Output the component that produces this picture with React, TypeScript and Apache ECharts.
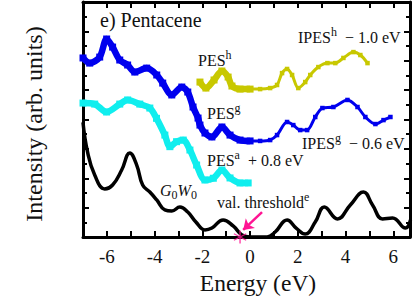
import React, { useEffect, useRef } from 'react';
import * as echarts from 'echarts';

// G0W0 theory (black line)
const gwE = [-7.0, -6.81, -6.51, -6.09, -5.76, -5.38, -5.04, -4.75, -4.50, -4.20, -3.91, -3.57, -3.28, -2.94, -2.61, -2.27, -1.89, -1.60, -1.13, -0.71, -0.34, 0.0, 0.71, 1.05, 1.55, 1.93, 2.31, 2.73, 3.11, 3.66, 4.2, 4.75, 5.13, 5.55, 5.97, 6.51, 6.72];
const gwI = [7.8, 5.79, 4.22, 3.27, 3.54, 4.56, 5.72, 4.90, 3.54, 3.06, 2.52, 1.84, 1.77, 2.04, 1.70, 1.02, 0.48, 0.61, 1.16, 0.75, 0.14, 0.0, 0.0, 0.34, 1.16, 0.61, 0.2, 1.02, 2.04, 1.23, 2.18, 3.06, 2.18, 1.23, 1.29, 0.61, 1.16];

// PES^a + 0.8 eV (cyan)
const pesAE = [-7.0, -6.51, -6.01, -5.46, -5.13, -4.62, -4.20, -3.92, -3.57, -3.36, -3.08, -2.80, -2.52, -2.24, -1.89, -1.54, -1.18, -0.84, -0.42, -0.08];
const pesAI = [9.12, 9.05, 8.51, 9.05, 9.33, 9.05, 8.78, 8.08, 6.94, 6.15, 6.49, 6.60, 5.92, 4.90, 3.88, 4.00, 4.56, 4.02, 3.68, 3.68];

// PES^g (blue, thick)
const pesGE = [-7.0, -6.72, -6.30, -6.01, -5.76, -5.46, -5.13, -4.83, -4.33, -3.91, -3.66, -3.28, -2.86, -2.61, -2.39, -2.18, -2.10, -1.89, -1.60, -1.18, -0.84, -0.42, 0.0];
const pesGI = [12.19, 11.84, 12.25, 13.48, 12.93, 12.05, 11.71, 11.23, 11.5, 11.03, 10.48, 9.67, 10.21, 9.87, 8.85, 8.10, 7.62, 7.08, 6.81, 7.49, 6.94, 6.60, 6.54];

// IPES^g - 0.6 eV (blue, small)
const ipesGE = [0.0, 0.42, 0.84, 1.13, 1.55, 1.81, 2.10, 2.39, 2.73, 3.03, 3.49, 4.08, 4.50, 4.83, 5.25, 5.59, 5.88];
const ipesGI = [6.54, 6.54, 6.60, 6.94, 7.83, 7.62, 7.28, 7.28, 8.17, 8.78, 8.85, 9.33, 8.85, 8.17, 7.69, 7.96, 8.17];

// PES^h (yellow, thick)
const pesHE = [-2.10, -1.85, -1.51, -1.18, -0.92, -0.76, -0.42, 0.0];
const pesHI = [10.55, 10.14, 10.69, 11.30, 10.89, 10.28, 10.07, 10.07];

// IPES^h - 1.0 eV (yellow, small)
const ipesHE = [0.0, 0.42, 0.84, 1.13, 1.34, 1.55, 1.76, 2.02, 2.31, 2.52, 2.86, 3.24, 3.57, 3.91, 4.33, 4.62, 4.92];
const ipesHI = [10.07, 10.07, 10.14, 10.35, 11.16, 11.44, 11.03, 10.14, 10.55, 11.03, 11.57, 11.84, 11.84, 12.19, 12.59, 12.39, 11.84];

// valence threshold marker and arrow
const thresholdPoint = [-0.42, 0];
const arrowFrom = [0.5, 1.7];
const arrowTo = [-0.29, 0.48];

const xMin = -7;
const xMax = 6.7;
const yMin = 0;
const yMax = 16;

const pairs = (xs: number[], ys: number[]) => xs.map((x, i) => [x, ys[i]]);

const SERIF = 'Liberation Serif';
const TXT = '#111';
const BLUE = '#0000ee';
const CYAN = '#10eeee';
const YELLOW = '#c8c800';
const PINK = '#ff1493';

const STAR =
  'path://M-0.6,-6L0.6,-6L0.6,6L-0.6,6Z M4.896,-3.52L5.496,-2.48L-4.896,3.52L-5.496,2.48Z M5.496,2.48L4.896,3.52L-5.496,-2.48L-4.896,-3.52Z';

const fnt = (fs: number, italic = false) => `${italic ? 'italic ' : ''}${fs}px "${SERIF}"`;

const richStyles = (fs: number) => ({
  m: { font: fnt(fs), fontFamily: SERIF, fontSize: fs, lineHeight: 22, fill: TXT },
  s: { font: fnt(Math.round(fs * 0.72)), fontFamily: SERIF, fontSize: Math.round(fs * 0.72), verticalAlign: 'top', fill: TXT },
  b: { font: fnt(Math.round(fs * 0.72)), fontFamily: SERIF, fontSize: Math.round(fs * 0.72), verticalAlign: 'bottom', fill: TXT },
  i: { font: fnt(fs, true), fontFamily: SERIF, fontSize: fs, fontStyle: 'italic', lineHeight: 22, fill: TXT },
});

const label = (x: number, y: number, text: string, fs = 16, extra: any = {}) => {
  const style: any = {
    text,
    font: fnt(fs),
    fontFamily: SERIF,
    fontSize: fs,
    fill: TXT,
    align: extra.align || 'left',
    verticalAlign: 'middle',
  };
  if (text.indexOf('{') >= 0) style.rich = richStyles(fs);
  return { type: 'text', x, y, z: 100, rotation: extra.rotation || 0, style };
};

const axisCommon = {
  axisLine: { show: true, onZero: false, lineStyle: { color: '#000', width: 3 } },
  splitLine: { show: false },
};

export default function App() {
  const ref = useRef<HTMLDivElement>(null);
  useEffect(() => {
    const chart = echarts.init(ref.current!, null, { renderer: 'svg' });
    const fmt = (v: number) => {
      const r = Math.round(v);
      return Math.abs(r - v) < 1e-6 && r % 2 === 0 ? String(r) : '';
    };
    chart.setOption({
      animation: false,
      backgroundColor: '#fff',
      grid: { left: 83, right: 5, top: 2, bottom: 59, containLabel: false },
      xAxis: [
        {
          type: 'value', min: xMin, max: xMax, interval: 1, position: 'bottom',
          ...axisCommon,
          axisTick: { show: true, inside: true, length: 6, lineStyle: { color: '#000', width: 2 } },
          axisLabel: { show: true, formatter: fmt, fontFamily: SERIF, fontSize: 19, color: TXT, margin: 10 },
        },
        {
          type: 'value', min: xMin, max: xMax, interval: 1, position: 'top',
          ...axisCommon,
          axisTick: { show: true, inside: true, length: 6, lineStyle: { color: '#000', width: 2 } },
          axisLabel: { show: false },
        },
      ],
      yAxis: [
        {
          type: 'value', min: yMin, max: yMax, interval: 2, position: 'left',
          ...axisCommon,
          axisTick: { show: true, inside: true, length: 6, lineStyle: { color: '#000', width: 2 } },
          minorTick: { show: true, splitNumber: 2, length: 4, lineStyle: { color: '#000', width: 2 } },
          minorSplitLine: { show: false },
          axisLabel: { show: false },
        },
        {
          type: 'value', min: yMin, max: yMax, interval: 2, position: 'right',
          ...axisCommon,
          axisTick: { show: true, inside: true, length: 6, lineStyle: { color: '#000', width: 2 } },
          minorTick: { show: true, splitNumber: 2, length: 4, lineStyle: { color: '#000', width: 2 } },
          minorSplitLine: { show: false },
          axisLabel: { show: false },
        },
      ],
      series: [
        {
          name: 'PES^h', type: 'line', data: pairs(pesHE, pesHI), smooth: 0.3,
          symbol: 'rect', symbolSize: 7, showSymbol: true, itemStyle: { color: YELLOW },
          lineStyle: { color: YELLOW, width: 6.5 },
        },
        {
          name: 'IPES^h', type: 'line', data: pairs(ipesHE, ipesHI), smooth: 0.3,
          symbol: 'rect', symbolSize: 4.5, showSymbol: true, itemStyle: { color: YELLOW },
          lineStyle: { color: YELLOW, width: 3 },
        },
        {
          name: 'PES^g', type: 'line', data: pairs(pesGE, pesGI), smooth: 0.3,
          symbol: 'rect', symbolSize: 7, showSymbol: true, itemStyle: { color: BLUE },
          lineStyle: { color: BLUE, width: 6.5 },
        },
        {
          name: 'IPES^g', type: 'line', data: pairs(ipesGE, ipesGI), smooth: 0.3,
          symbol: 'rect', symbolSize: 4.5, showSymbol: true, itemStyle: { color: BLUE },
          lineStyle: { color: BLUE, width: 3 },
        },
        {
          name: 'PES^a', type: 'line', data: pairs(pesAE, pesAI), smooth: 0.3,
          symbol: 'rect', symbolSize: 7, showSymbol: true, itemStyle: { color: CYAN },
          lineStyle: { color: CYAN, width: 6.5 },
        },
        {
          name: 'G0W0', type: 'line', data: pairs(gwE, gwI), smooth: 0.45,
          showSymbol: false, lineStyle: { color: '#000', width: 3.5 },
        },
        {
          name: 'arrow', type: 'lines', coordinateSystem: 'cartesian2d',
          data: [{ coords: [arrowFrom, arrowTo] }],
          symbol: ['none', 'arrow'], symbolSize: 10,
          lineStyle: { color: PINK, width: 2.5, opacity: 1 },
          z: 5,
        },
        {
          name: 'threshold', type: 'scatter', data: [thresholdPoint], clip: false,
          symbol: STAR, symbolSize: 13, itemStyle: { color: PINK }, z: 6,
        },
      ],
      graphic: [
        label(100, 20, 'e) Pentacene', 20),
        label(198, 60, '{m|PES}{s|h}', 16),
        label(298, 37, '{m|IPES}{s|h}{m|  − 1.0 eV}', 16),
        label(207, 113, '{m|PES}{s|g}', 16),
        label(302, 143, '{m|IPES}{s|g}{m|  − 0.6 eV}', 16),
        label(207, 160, '{m|PES}{s|a}{m|  + 0.8 eV}', 16),
        label(160, 190, '{i|G}{b|0}{i|W}{b|0}', 16),
        label(217, 202, '{m|val. threshold}{s|e}', 16),
        label(258, 283, 'Energy (eV)', 23.5, { align: 'center' }),
        label(34, 124, 'Intensity (arb. units)', 24, { align: 'center', rotation: Math.PI / 2 }),
      ],
    });
    return () => chart.dispose();
  }, []);
  return (
    <div
      ref={ref}
      style={{ position: 'fixed', left: 0, top: 0, width: 415, height: 296, background: '#fff' }}
    />
  );
}
